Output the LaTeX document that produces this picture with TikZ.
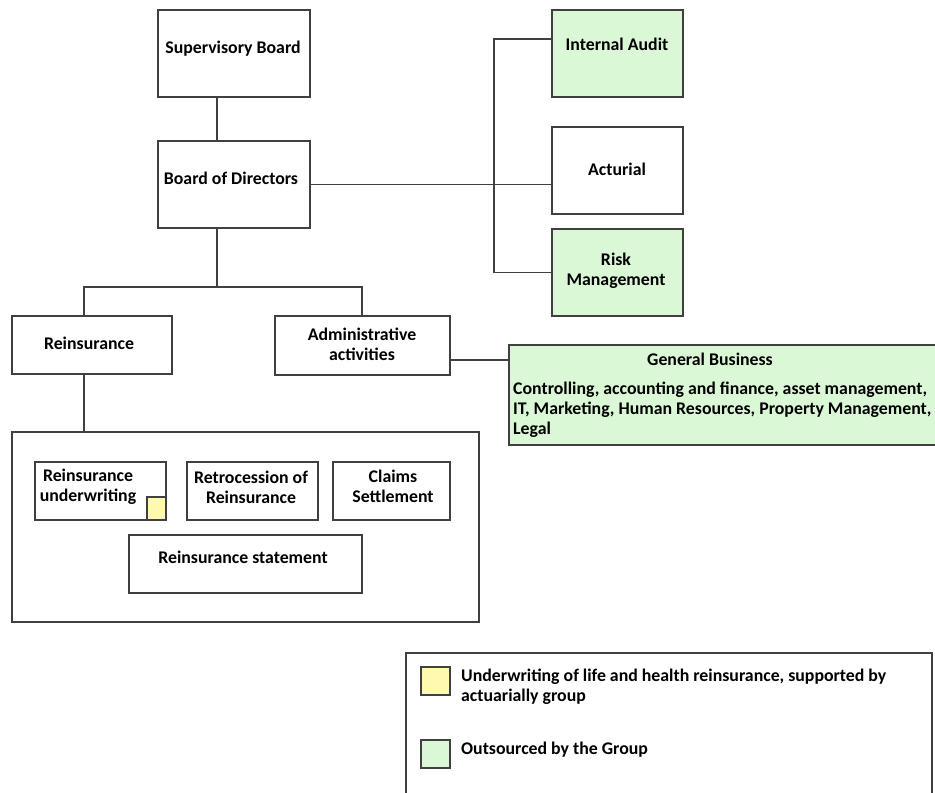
\documentclass[tikz,border=0pt]{standalone}
\usepackage{fontspec}
\setmainfont{Carlito}
\usetikzlibrary{positioning}

\definecolor{outgreen}{RGB}{218,248,214}
\definecolor{actyellow}{RGB}{255,249,176}
\definecolor{linegray}{RGB}{64,64,64}

\begin{document}
\begin{tikzpicture}[x=1pt,y=-1pt,
    box/.style={draw=linegray, line width=1.3pt, inner sep=0pt, outer sep=0pt},
    txt/.style={font=\fontsize{17.8}{20}\selectfont\bfseries, inner sep=0pt, align=center},
    link/.style={draw=linegray, line width=1.2pt}]
    \useasboundingbox (0,0) rectangle (935,793);

    % Top of the chart
    \node[box, minimum width=152, minimum height=87] (sb) at (234,53.5) {};
    \node[txt] (sbtext) at (233,49) {Supervisory Board};
    \node[box, minimum width=152, minimum height=87] (bod) at (234,184.5) {};
    \node[txt] (bodtext) at (231,178) {Board of Directors};

    % Key functions
    \node[box, fill=outgreen, minimum width=131, minimum height=87] (ia) at (617.5,53.5) {};
    \node[txt] (iatext) at (617,44) {Internal Audit};
    \node[box, minimum width=131, minimum height=87] (act) at (617.5,170.5) {};
    \node[txt] (acttext) at (617,169) {Acturial};
    \node[box, fill=outgreen, minimum width=131, minimum height=87] (rm) at (617.5,272.5) {};
    \node[txt] (rmtext) at (616,271) {Risk\\Management};

    % Business lines
    \node[box, minimum width=160, minimum height=58] (rein) at (92,345) {};
    \node[txt] (reintext) at (89,343) {Reinsurance};
    \node[box, minimum width=175, minimum height=59] (adm) at (362.5,345.5) {};
    \node[txt] (admtext) at (362,344) {Administrative\\activities};
    \node[box, fill=outgreen, minimum width=436, minimum height=100] (gb) at (727,395) {};
    \node[txt] (gbtitle) at (710,359) {General Business};
    \node[txt, anchor=west, align=left] (gbtext) at (513,410)
        {Controlling, accounting and finance, asset management,\\
         IT, Marketing, Human Resources, Property Management,\\
         Legal};

    % Reinsurance departments
    \node[box, minimum width=467, minimum height=190] (cont) at (245.5,527) {};
    \node[box, minimum width=131, minimum height=58] (uw) at (100.5,491) {};
    \node[txt] (uwtext) at (88,487) {Reinsurance\\underwriting};
    \node[box, fill=actyellow, minimum width=19, minimum height=23, anchor=south east] (uwmark) at (uw.south east) {};
    \node[box, minimum width=131, minimum height=58] (retro) at (252.5,491) {};
    \node[txt] (retrotext) at (251,487) {Retrocession of\\Reinsurance};
    \node[box, minimum width=117, minimum height=58] (claims) at (391.5,491) {};
    \node[txt] (claimstext) at (393,486) {Claims\\Settlement};
    \node[box, minimum width=233, minimum height=58] (stmt) at (245.5,564) {};
    \node[txt] (stmttext) at (243,557) {Reinsurance statement};

    % Legend
    \node[box, minimum width=526, minimum height=147] (legend) at (669,726.5) {};
    \node[box, fill=actyellow, minimum width=29, minimum height=28] (keyyellow) at (435.5,681) {};
    \node[txt, anchor=west, align=left] (keyyellowtext) at (461,687)
        {Underwriting of life and health reinsurance, supported by\\actuarially group};
    \node[box, fill=outgreen, minimum width=29, minimum height=28] (keygreen) at (435.5,754) {};
    \node[txt, anchor=west] (keygreentext) at (461,750) {Outsourced by the Group};

    % Connectors
    \coordinate (bus) at (494,0);
    \coordinate (fork) at (217,287);
    \draw[link] ([xshift=-17pt]sb.south) -- ([xshift=-17pt]bod.north);
    \draw[link] (bod.east) -- (bod.east -| act.west);
    \draw[link] ([yshift=14.5pt]ia.west) -| (bus |- rm.west) -- (rm.west);
    \draw[link] ([xshift=-17pt]bod.south) -- (fork);
    \draw[link] ([xshift=-8pt]rein.north) |- (fork) -| ([xshift=-0.5pt]adm.north);
    \draw[link] ([xshift=-8pt]rein.south) -- ([xshift=-8pt]rein.south |- cont.north);
    \draw[link] ([yshift=-14.5pt]adm.east) -- ([yshift=-14.5pt]adm.east -| gb.west);

\end{tikzpicture}
\end{document}
